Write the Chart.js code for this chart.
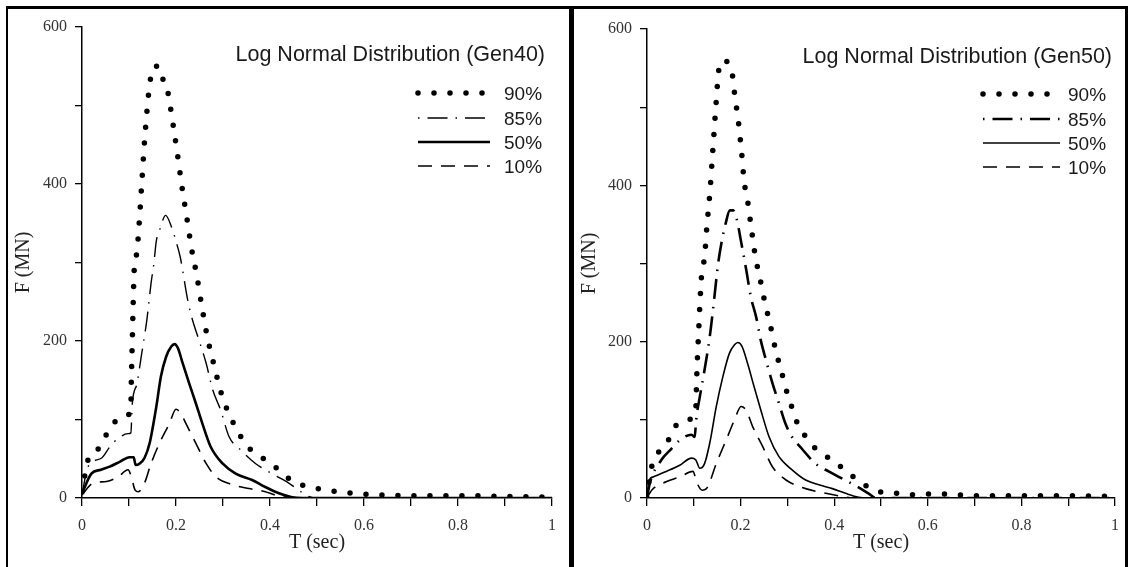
<!DOCTYPE html>
<html><head><meta charset="utf-8">
<script src="https://cdn.jsdelivr.net/npm/chart.js@4/dist/chart.umd.min.js"></script>
<style>
html,body{margin:0;padding:0;background:#fff;width:1129px;height:567px;overflow:hidden;}
.frame{position:absolute;left:6px;top:6px;width:1117px;height:600px;border-top:3px solid #000;border-left:2px solid #000;border-right:3px solid #000;}
.divider{position:absolute;left:569px;top:6px;width:5px;height:600px;background:#000;}
.panel{position:absolute;top:0;height:567px;}
canvas{display:block;}
</style></head><body>
<div class="frame"></div><div class="divider"></div>
<div class="panel" style="left:0;width:566px"><canvas id="c1" width="566" height="567"></canvas></div>
<div class="panel" style="left:566px;width:563px"><canvas id="c2" width="563" height="567"></canvas></div>
<script>
// ---------- DATA ----------
const seriesLabels = ['90%', '85%', '50%', '10%'];
const xTickLabels = ['0', '0.2', '0.4', '0.6', '0.8', '1'];
const yTickLabels = ['0', '200', '400', '600'];

// Gen40
const gen40_T90 = [0, 0.013, 0.035, 0.051, 0.068, 0.094, 0.104, 0.105, 0.107, 0.109, 0.111, 0.117, 0.122, 0.128, 0.134, 0.143, 0.150, 0.157, 0.166, 0.173, 0.179, 0.185, 0.195, 0.204, 0.213, 0.223, 0.233, 0.244, 0.255, 0.266, 0.281, 0.297, 0.320, 0.352, 0.376, 0.402, 0.447, 0.50, 0.56, 0.63, 0.70, 0.80, 0.90, 1.0];
const gen40_F90 = [8, 49, 63, 80, 96, 104, 117, 150, 200, 250, 290, 314, 353, 409, 462, 522, 546, 550, 549, 532, 528, 509, 471, 434, 395, 357, 318, 284, 244, 207, 169, 132, 98, 66, 54, 44, 22, 12, 7, 4, 3, 3, 2, 1];
const gen40_T85 = [0, 0.013, 0.042, 0.059, 0.077, 0.098, 0.104, 0.107, 0.117, 0.126, 0.138, 0.147, 0.153, 0.158, 0.165, 0.178, 0.19, 0.2, 0.209, 0.225, 0.235, 0.249, 0.264, 0.278, 0.295, 0.313, 0.338, 0.369, 0.404, 0.44, 0.461, 0.482, 0.5, 1.0];
const gen40_F85 = [5, 40, 51, 65, 76, 82, 83, 120, 146, 180, 227, 274, 299, 327, 341, 360, 346, 327, 307, 252, 227, 201, 172, 138, 112, 78, 61, 44, 31, 19, 10, 2, 0, 0];
const gen40_T50 = [0, 0.02, 0.04, 0.059, 0.08, 0.101, 0.11, 0.114, 0.123, 0.133, 0.144, 0.158, 0.168, 0.179, 0.19, 0.197, 0.204, 0.214, 0.228, 0.242, 0.256, 0.274, 0.299, 0.327, 0.362, 0.39, 0.419, 0.447, 0.47, 1.0];
const gen40_F50 = [6, 31, 36, 40, 46, 52, 52, 42, 44, 51, 70, 116, 155, 180, 193, 196, 191, 172, 146, 121, 95, 65, 44, 31, 23, 14, 6, 1, 0, 0];
const gen40_T10 = [0, 0.024, 0.052, 0.077, 0.098, 0.105, 0.113, 0.12, 0.133, 0.147, 0.165, 0.186, 0.2, 0.21, 0.221, 0.242, 0.264, 0.285, 0.32, 0.355, 0.39, 0.41, 0.433, 0.45, 1.0];
const gen40_F10 = [4, 19, 21, 27, 36, 27, 10, 8, 19, 44, 70, 95, 113, 108, 95, 70, 44, 27, 17, 12, 8, 4, 1, 0, 0];

// Gen50
const gen50_T90 = [0, 0.004, 0.01, 0.024, 0.044, 0.057, 0.084, 0.104, 0.105, 0.107, 0.110, 0.113, 0.117, 0.123, 0.128, 0.134, 0.141, 0.148, 0.153, 0.159, 0.166, 0.173, 0.182, 0.188, 0.195, 0.202, 0.208, 0.214, 0.223, 0.232, 0.24, 0.253, 0.261, 0.275, 0.288, 0.301, 0.312, 0.323, 0.335, 0.352, 0.376, 0.403, 0.425, 0.449, 0.47, 0.498, 0.533, 0.562, 0.6, 0.63, 0.7, 0.8, 0.9, 1.0];
const gen50_F90 = [0, 20, 40, 58, 72, 89, 100, 108, 128, 168, 208, 248, 288, 308, 348, 388, 448, 508, 546, 554, 561, 556, 543, 513, 483, 443, 403, 384, 345, 307, 285, 247, 228, 189, 160, 131, 112, 93, 82, 68, 56, 46, 34, 24, 15, 8, 6, 4, 5, 5, 3, 3, 3, 2];
const gen50_T85 = [0, 0.006, 0.031, 0.049, 0.07, 0.095, 0.102, 0.105, 0.113, 0.123, 0.134, 0.144, 0.152, 0.159, 0.168, 0.177, 0.184, 0.192, 0.201, 0.212, 0.222, 0.233, 0.243, 0.254, 0.268, 0.282, 0.296, 0.31, 0.331, 0.36, 0.388, 0.423, 0.451, 0.473, 0.49, 1.0];
const gen50_F85 = [0, 19, 49, 61, 74, 81, 78, 100, 130, 164, 206, 257, 300, 326, 351, 368, 368, 356, 328, 292, 257, 232, 202, 177, 147, 121, 95, 78, 63, 44, 34, 23, 14, 6, 0, 0];
const gen50_T50 = [0, 0.005, 0.013, 0.041, 0.07, 0.095, 0.104, 0.113, 0.123, 0.134, 0.148, 0.162, 0.176, 0.187, 0.194, 0.203, 0.215, 0.229, 0.243, 0.261, 0.282, 0.31, 0.339, 0.367, 0.396, 0.424, 0.452, 0.47, 1.0];
const gen50_F50 = [0, 23, 27, 34, 42, 51, 49, 38, 44, 70, 117, 155, 185, 196, 199, 194, 172, 142, 113, 78, 53, 36, 23, 17, 12, 6, 1, 0, 0];
const gen50_T10 = [0, 0.01, 0.042, 0.07, 0.098, 0.107, 0.118, 0.127, 0.148, 0.169, 0.187, 0.201, 0.212, 0.226, 0.247, 0.268, 0.297, 0.339, 0.382, 0.417, 0.44, 1.0];
const gen50_F10 = [0, 10, 21, 27, 34, 19, 10, 12, 44, 74, 100, 117, 112, 91, 66, 40, 23, 12, 6, 2, 0, 0];

// ---------- CHART ----------
const pts = (xs, ys) => xs.map((x, i) => ({x: x, y: ys[i]}));
const SERIF = '"Liberation Serif", "Times New Roman", serif';
const SANS = '"Liberation Sans", Arial, sans-serif';

const legendPlugin = {
  id: 'customLegend',
  afterDraw(chart, args, o) {
    const ctx = chart.ctx;
    ctx.save();
    ctx.fillStyle = '#1a1a1a';
    ctx.font = '21.5px ' + SANS;
    ctx.textAlign = 'right';
    ctx.textBaseline = 'alphabetic';
    ctx.fillText(o.title, o.titleRight, o.titleBaseline);
    chart.data.datasets.forEach((ds, i) => {
      const yb = o.rowBaselines[i];
      const ym = yb - 6.5;
      ctx.setLineDash(ds.borderDash || []);
      ctx.lineDashOffset = ds.legendDashOffset || 0;
      ctx.lineCap = ds.borderCapStyle || 'butt';
      ctx.lineWidth = ds.borderWidth;
      ctx.strokeStyle = ds.borderColor;
      ctx.beginPath();
      ctx.moveTo(o.lineX0, ym);
      ctx.lineTo(o.lineX1, ym);
      ctx.stroke();
      ctx.setLineDash([]);
      ctx.lineDashOffset = 0;
      ctx.textAlign = 'left';
      ctx.font = '19px ' + SANS;
      ctx.fillText(ds.label, o.textX, yb);
    });
    ctx.restore();
  }
};

function makeChart(id, cfg) {
  const d = cfg.data;
  const datasets = [
    {label: seriesLabels[0], data: pts(d[0], d[1]), borderColor: '#000', borderWidth: 5.5, borderDash: [0, 16], borderCapStyle: 'round'},
    {label: seriesLabels[1], data: pts(d[2], d[3]), borderColor: '#000', borderWidth: cfg.w85, borderDash: [20, 8, 1.5, 8], borderCapStyle: 'butt', legendDashOffset: 28},
    {label: seriesLabels[2], data: pts(d[4], d[5]), borderColor: '#000', borderWidth: cfg.w50, borderDash: [], borderCapStyle: 'butt'},
    {label: seriesLabels[3], data: pts(d[6], d[7]), borderColor: '#000', borderWidth: 1.6, borderDash: [14, 9], borderCapStyle: 'butt'}
  ];
  datasets.forEach(ds => { ds.pointRadius = 0; ds.fill = false; ds.cubicInterpolationMode = 'monotone'; });
  return new Chart(document.getElementById(id), {
    type: 'line',
    data: {datasets},
    options: {
      responsive: false,
      animation: false,
      layout: {padding: {left: 0, top: cfg.top, right: cfg.padRight, bottom: 0}},
      plugins: {
        legend: {display: false},
        tooltip: {enabled: false},
        customLegend: cfg.legend
      },
      scales: {
        x: {
          type: 'linear', min: 0, max: 1,
          afterFit: s => { s.height = 567 - cfg.bottom; },
          ticks: {
            stepSize: 0.1, autoSkip: false, maxRotation: 0, padding: 10,
            color: '#333', font: {family: SERIF, size: 16},
            callback: (v, i) => (i % 2 === 0 ? xTickLabels[i / 2] : '')
          },
          grid: {drawOnChartArea: false, drawTicks: true, tickLength: 8, color: '#000', lineWidth: 1.3},
          border: {display: true, color: '#000', width: 1.5},
          title: {display: true, text: 'T (sec)', color: '#222', font: {family: SERIF, size: 20}, padding: {top: 0, bottom: 12}}
        },
        y: {
          type: 'linear', min: 0, max: 600,
          afterFit: s => { s.width = cfg.axisLeft; },
          ticks: {
            stepSize: 100, autoSkip: false, padding: 8,
            color: '#333', font: {family: SERIF, size: 16},
            callback: (v, i) => (i % 2 === 0 ? yTickLabels[i / 2] : '')
          },
          grid: {drawOnChartArea: false, drawTicks: true, tickLength: 7, color: '#000', lineWidth: 1.3},
          border: {display: true, color: '#000', width: 1.5},
          title: {display: true, text: 'F (MN)', color: '#222', font: {family: SERIF, size: 20}, padding: {top: 12, bottom: 0}}
        }
      }
    },
    plugins: [legendPlugin]
  });
}

makeChart('c1', {
  data: [gen40_T90, gen40_F90, gen40_T85, gen40_F85, gen40_T50, gen40_F50, gen40_T10, gen40_F10],
  w85: 1.4, w50: 2.6,
  top: 27, bottom: 498, axisLeft: 82, padRight: 566 - 555,
  legend: {title: 'Log Normal Distribution (Gen40)', titleRight: 545, titleBaseline: 61,
           rowBaselines: [99.5, 124.5, 148.5, 172.5], lineX0: 418, lineX1: 490, textX: 504}
});
makeChart('c2', {
  data: [gen50_T90, gen50_F90, gen50_T85, gen50_F85, gen50_T50, gen50_F50, gen50_T10, gen50_F10],
  w85: 2.6, w50: 1.6,
  top: 29, bottom: 498, axisLeft: 81, padRight: 563 - 552,
  legend: {title: 'Log Normal Distribution (Gen50)', titleRight: 546, titleBaseline: 63,
           rowBaselines: [100.5, 125.5, 149.5, 173.5], lineX0: 417, lineX1: 494, textX: 502}
});
</script>
</body></html>
